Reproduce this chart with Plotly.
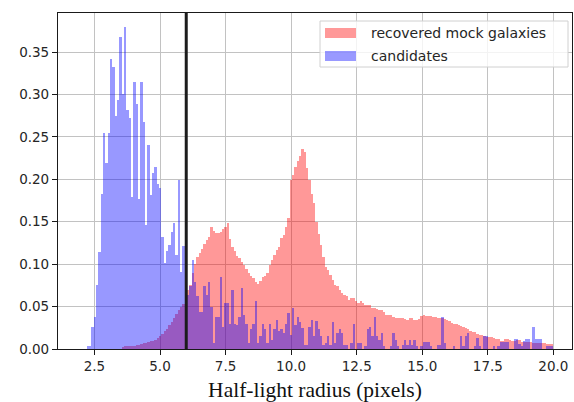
import numpy as np
import plotly.graph_objects as go

# Histogram binning (200 equal bins)
BIN_LO, BIN_HI, N_BINS = 2.2, 20.0, 200

# Normalised counts per bin
recovered_mock = [
    0, 0, 0, 0, 0, 0, 0, 0, 0, 0,
    0, 0, 0, 0, 0, 0.002, 0.003, 0.003, 0.003, 0.003,
    0.004, 0.005, 0.005, 0.006, 0.007, 0.007, 0.008, 0.009, 0.010, 0.011,
    0.013, 0.015, 0.018, 0.021, 0.024, 0.028, 0.032, 0.036, 0.041, 0.046,
    0.050, 0.053, 0.060,
    0.070, 0.075, 0.090, 0.100, 0.108, 0.113, 0.118, 0.124, 0.128, 0.132,
    0.144, 0.139, 0.137, 0.137, 0.138, 0.142, 0.144, 0.148, 0.130, 0.120,
    0.116, 0.110, 0.107, 0.103, 0.099, 0.094, 0.089, 0.086, 0.084, 0.079,
    0.077, 0.080, 0.085, 0.086, 0.090, 0.099, 0.105, 0.111, 0.117,
    0.120, 0.131, 0.134, 0.144, 0.154, 0.199, 0.205, 0.215, 0.222, 0.228,
    0.236, 0.232, 0.213, 0.199, 0.183, 0.172, 0.150, 0.136, 0.123, 0.109,
    0.097, 0.093, 0.087, 0.081, 0.075, 0.074, 0.070, 0.066, 0.064, 0.062,
    0.058, 0.060, 0.060, 0.056, 0.054, 0.056, 0.054, 0.052, 0.052, 0.052,
    0.048,
    0.048, 0.047, 0.046, 0.046, 0.044, 0.040, 0.040, 0.040, 0.038, 0.036,
    0.036, 0.036, 0.036, 0.035, 0.034, 0.036, 0.036, 0.034, 0.034, 0.035,
    0.039, 0.040, 0.039, 0.039, 0.039, 0.038, 0.038, 0.037, 0.036, 0.036,
    0.035, 0.034, 0.033, 0.031, 0.030, 0.029, 0.028, 0.027, 0.026, 0.025,
    0.023,
    0.021, 0.020, 0.020, 0.018, 0.017, 0.016, 0.015, 0.014, 0.014, 0.014,
    0.013, 0.012, 0.012, 0.010, 0.010, 0.012, 0.012, 0.011, 0.010, 0.010,
    0.011, 0.011, 0.008, 0.008, 0.008, 0.008, 0.008, 0.007, 0.007, 0.007,
    0.007, 0.007, 0.007, 0.006, 0.006, 0.006,
]

candidates = [
    0.003, 0.003, 0.026, 0.038, 0.075, 0.114, 0.183, 0.254, 0.219, 0.254,
    0.342, 0.332, 0.275, 0.293, 0.368, 0.301, 0.379, 0.282, 0.272, 0.179,
    0.315, 0.289, 0.177, 0.315, 0.268, 0.146, 0.240, 0.181, 0.207, 0.215,
    0.195, 0.190, 0.132, 0.101, 0.115, 0.123, 0.138, 0.148, 0.111, 0.199,
    0.091, 0.121, 0.100,
    0.064, 0.074, 0.105, 0.079, 0.062, 0.044, 0.044, 0.074, 0.064, 0.079,
    0.050, 0.007, 0.038, 0.038, 0.085, 0.026, 0.054, 0.054, 0.030, 0.070,
    0.030, 0.028, 0.038, 0.072, 0.040, 0.030, 0.007, 0.023, 0.030, 0.057,
    0.007, 0.015, 0.030, 0.023, 0.007, 0.030, 0.011, 0.023, 0.034,
    0.021, 0.023, 0.019, 0.030, 0.042, 0.017, 0.048, 0.028, 0.038, 0.032,
    0.025, 0.005, 0.005, 0.026, 0.034, 0.015, 0.033, 0.023, 0.015, 0.005,
    0.007, 0.015, 0.005, 0.032, 0.007, 0.019, 0.023, 0.019, 0.005, 0.005,
    0, 0.007, 0.030, 0, 0.007, 0.007, 0, 0.003, 0.023, 0.026,
    0.015,
    0.038, 0.015, 0.011, 0.019, 0.003, 0, 0, 0.003, 0.019, 0.011,
    0.003, 0, 0.005, 0.011, 0.005, 0.011, 0.005, 0.011, 0.003, 0,
    0.003, 0.008, 0.008, 0.008, 0.003, 0, 0, 0.005, 0.005, 0.038,
    0.007, 0, 0, 0, 0.003, 0, 0, 0.015, 0.003, 0.015,
    0.019,
    0, 0, 0.003, 0.013, 0.003, 0, 0.015, 0.015, 0, 0,
    0.003, 0, 0.003, 0.008, 0.008, 0.008, 0.008, 0, 0, 0.012,
    0.012, 0.006, 0.003, 0.009, 0.012, 0.012, 0, 0.026, 0.012, 0.012,
    0.012, 0, 0, 0.003, 0.003, 0.003,
]

series_names = ["recovered mock galaxies", "candidates"]
x_ticks = [2.5, 5.0, 7.5, 10.0, 12.5, 15.0, 17.5, 20.0]
y_ticks = [0.0, 0.05, 0.10, 0.15, 0.20, 0.25, 0.30, 0.35]
cut_radius = 6.0
x_label = "Half-light radius (pixels)"

edges = np.linspace(BIN_LO, BIN_HI, N_BINS + 1)
centers = 0.5 * (edges[:-1] + edges[1:])
bw = edges[1] - edges[0]

W, H = 574, 402
ML, MR, MT, MB = 58, 2, 13, 53
PW, PH = W - ML - MR, H - MT - MB


def px(x):
    return (x - ML) / PW


def py(y):
    return (H - MB - y) / PH


fig = go.Figure()
fig.add_trace(go.Bar(x=centers, y=recovered_mock, width=bw, name=series_names[0],
                     marker=dict(color="rgb(255,0,0)", line=dict(width=0)),
                     opacity=0.4, showlegend=False))
fig.add_trace(go.Bar(x=centers, y=candidates, width=bw, name=series_names[1],
                     marker=dict(color="rgb(0,0,255)", line=dict(width=0)),
                     opacity=0.4, showlegend=False))

tick_font = dict(family="DejaVu Sans", size=13.5, color="#262626")
axis_common = dict(showgrid=True, gridcolor="#c2c2c2", gridwidth=1.3,
                   showline=True, mirror=True, linecolor="#1a1a1a", linewidth=1.2,
                   ticks="outside", ticklen=5, tickcolor="#1a1a1a", tickwidth=1,
                   zeroline=False, layer="above traces", tickfont=tick_font)

fig.update_xaxes(range=[1.11, 20.71], tickvals=x_ticks,
                 ticktext=[f"{v:.1f}" for v in x_ticks],
                 title=dict(text=x_label, standoff=9,
                            font=dict(family="Liberation Serif", size=21.5, color="#111")),
                 **axis_common)
fig.update_yaxes(range=[0, 0.396], tickvals=y_ticks,
                 ticktext=[f"{v:.2f}" for v in y_ticks], **axis_common)

shapes = [
    dict(type="line", xref="x", yref="paper", x0=cut_radius, x1=cut_radius, y0=0, y1=1,
         line=dict(color="#1c1c1c", width=3), layer="above"),
    # legend frame
    dict(type="rect", xref="paper", yref="paper", x0=px(320), x1=px(568), y0=py(67), y1=py(21),
         fillcolor="rgba(255,255,255,0.8)", line=dict(color="#d0d0d0", width=1), layer="above"),
    dict(type="rect", xref="paper", yref="paper", x0=px(325), x1=px(356), y0=py(38), y1=py(28),
         fillcolor="rgba(255,0,0,0.4)", line=dict(width=0), layer="above"),
    dict(type="rect", xref="paper", yref="paper", x0=px(325), x1=px(356), y0=py(61), y1=py(51),
         fillcolor="rgba(0,0,255,0.4)", line=dict(width=0), layer="above"),
]
annotations = [
    dict(xref="paper", yref="paper", x=px(369), y=py(33), text=series_names[0],
         showarrow=False, xanchor="left", yanchor="middle",
         font=dict(family="DejaVu Sans", size=14, color="#262626")),
    dict(xref="paper", yref="paper", x=px(369), y=py(56), text=series_names[1],
         showarrow=False, xanchor="left", yanchor="middle",
         font=dict(family="DejaVu Sans", size=14, color="#262626")),
]

fig.update_layout(width=W, height=H, margin=dict(l=ML, r=MR, t=MT, b=MB),
                  barmode="overlay", bargap=0, paper_bgcolor="white", plot_bgcolor="white",
                  shapes=shapes, annotations=annotations, showlegend=False)

fig.write_html("out.html")
